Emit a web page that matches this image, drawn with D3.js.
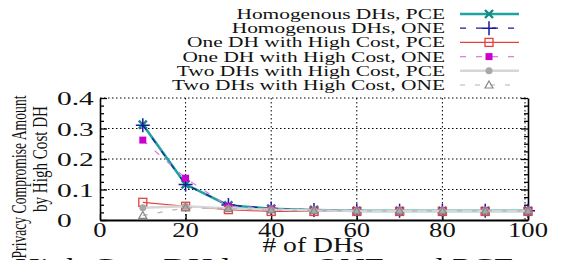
<!DOCTYPE html>
<html>
<head>
<meta charset="utf-8">
<script src="https://cdn.jsdelivr.net/npm/d3@7"></script>
<style>
  body { margin: 0; background: #fff; }
  text { font-family: "Liberation Serif", "DejaVu Serif", serif; }
</style>
</head>
<body>
<div id="chart"></div>
<script>
// number of DHs on the x axis
var dhCounts = [10, 20, 30, 40, 50, 60, 70, 80, 90, 100];

// privacy compromise amount, one array per curve
var homPCE     = [0.313, 0.117, 0.048, 0.037, 0.033, 0.030, 0.030, 0.030, 0.030, 0.030];
var homONE     = [0.311, 0.116, 0.049, 0.038, 0.033, 0.031, 0.030, 0.030, 0.030, 0.030];
var oneHighPCE = [0.058, 0.045, 0.034, 0.028, 0.028, 0.028, 0.028, 0.028, 0.028, 0.028];
var oneHighONE = [0.262, 0.137, 0.045, 0.036, 0.031, 0.030, 0.030, 0.030, 0.030, 0.030];
var twoHighPCE = [0.040, 0.045, 0.038, 0.034, 0.031, 0.030, 0.030, 0.030, 0.030, 0.030];
var twoHighONE = [0.015, 0.040, 0.037, 0.033, 0.031, 0.030, 0.030, 0.030, 0.030, 0.030];

var seriesNames = [
  "Homogenous DHs, PCE",
  "Homogenous DHs, ONE",
  "One DH with High Cost, PCE",
  "One DH with High Cost, ONE",
  "Two DHs with High Cost, PCE",
  "Two DHs with High Cost, ONE"
];
var xTicks = [0, 20, 40, 60, 80, 100];
var yTicks = [0, 0.1, 0.2, 0.3, 0.4];

function init(){
  var w = 567, h = 260;
  var left = 100, right = 528, top = 98, bottom = 220;

  var styles = [
    {color: "#1fa39e", width: 2.6, dash: null,   mark: "x"},
    {color: "#1a1a9a", width: 1.2, dash: "6,10", mark: "plus"},
    {color: "#e4403c", width: 1.2, dash: null,   mark: "osq"},
    {color: "#e27ae2", width: 1.2, dash: "6,10", mark: "fsq", mcolor: "#cc00cc"},
    {color: "#d6d6d6", width: 2.4, dash: null,   mark: "circ", mcolor: "#a8a8a8"},
    {color: "#b4b4b4", width: 1.2, dash: "5,10", mark: "tri", mcolor: "#888"}
  ];
  var allSeries = [homPCE, homONE, oneHighPCE, oneHighONE, twoHighPCE, twoHighONE];

  var x = d3.scaleLinear().domain([0, 100]).range([left, right]);
  var y = d3.scaleLinear().domain([0, 0.4]).range([bottom, top]);

  var svg = d3.select("#chart").append("svg")
    .attr("width", w).attr("height", h)
    .attr("font-family", "Liberation Serif, DejaVu Serif, serif");

  // stretch text sideways like the reference picture
  function stretch(sel, k){
    sel.each(function(){
      var len = this.getComputedTextLength();
      d3.select(this).attr("textLength", len * k).attr("lengthAdjust", "spacingAndGlyphs");
    });
  }

  // grid
  svg.append("g").selectAll("line")
    .data(yTicks.filter(function(d){ return d > 0; }))
    .enter().append("line")
    .attr("x1", left).attr("x2", right)
    .attr("y1", function(d){ return y(d); }).attr("y2", function(d){ return y(d); })
    .attr("stroke", "#000").attr("stroke-width", 1).attr("stroke-dasharray", "1.5,2.5");
  svg.append("g").selectAll("line")
    .data(xTicks.filter(function(d){ return d > 0; }))
    .enter().append("line")
    .attr("x1", function(d){ return x(d) - (d == 100 ? 3 : 0); })
    .attr("x2", function(d){ return x(d) - (d == 100 ? 3 : 0); })
    .attr("y1", top).attr("y2", bottom)
    .attr("stroke", "#000").attr("stroke-width", 1).attr("stroke-dasharray", "1.5,2.5");

  // axes: ticks point inward, minor ticks every 0.025
  var yAxisL = d3.axisRight(y).tickValues(d3.range(0, 0.4001, 0.025)).tickFormat("")
    .tickSize(0).tickSizeOuter(0);
  var gl = svg.append("g").attr("transform", "translate(" + left + ",0)").call(yAxisL);
  gl.selectAll(".tick line").attr("x2", function(d){ return Math.abs(d*10 - Math.round(d*10)) < 1e-6 ? 7 : 4; })
    .attr("stroke-width", 1.3);
  var gr = svg.append("g").attr("transform", "translate(" + right + ",0)").call(d3.axisLeft(y)
    .tickValues(d3.range(0, 0.4001, 0.025)).tickFormat("").tickSize(0).tickSizeOuter(0));
  gr.selectAll(".tick line").attr("x2", function(d){ return Math.abs(d*10 - Math.round(d*10)) < 1e-6 ? -7 : -4; })
    .attr("stroke-width", 1.3);
  svg.selectAll(".domain").attr("stroke", "#000").attr("stroke-width", 1.6);
  var gb = svg.append("g").attr("transform", "translate(0," + bottom + ")")
    .call(d3.axisTop(x).tickValues(xTicks).tickFormat("").tickSizeInner(6).tickSizeOuter(0));
  gb.select(".domain").attr("stroke", "#000").attr("stroke-width", 1.8);
  gb.selectAll(".tick line").attr("stroke-width", 1.3);

  // tick labels
  var yl = svg.append("g").selectAll("text").data(yTicks).enter().append("text")
    .attr("x", 57).attr("y", function(d){ return y(d) + 7; })
    .attr("font-size", 19).attr("fill", "#111")
    .text(function(d){ return d == 0 ? "0" : d3.format(".1f")(d); });
  stretch(yl, 1.55);
  var xl = svg.append("g").selectAll("text").data(xTicks).enter().append("text")
    .attr("x", function(d){ return x(d); }).attr("y", 237)
    .attr("text-anchor", "middle").attr("font-size", 20).attr("fill", "#111")
    .text(function(d){ return d; });
  stretch(xl, 1.33);

  var xt = svg.append("text").attr("x", 313).attr("y", 252)
    .attr("text-anchor", "middle").attr("font-size", 20).attr("fill", "#111")
    .text("# of DHs");
  stretch(xt, 1.38);

  svg.append("text").attr("transform", "translate(26,177) rotate(-90)")
    .attr("text-anchor", "middle").attr("font-size", 20).attr("fill", "#111")
    .attr("textLength", 163).attr("lengthAdjust", "spacingAndGlyphs")
    .text("Privacy Compromise Amount");
  svg.append("text").attr("transform", "translate(47,159) rotate(-90)")
    .attr("text-anchor", "middle").attr("font-size", 20).attr("fill", "#111")
    .attr("textLength", 106).attr("lengthAdjust", "spacingAndGlyphs")
    .text("by High Cost DH");

  // caption cut off at the bottom
  svg.append("text").attr("x", 15).attr("y", 278)
    .attr("font-size", 30).attr("fill", "#111")
    .attr("textLength", 500).attr("lengthAdjust", "spacingAndGlyphs")
    .text("High Cost DH leaves ONE and PCE");

  function drawMark(g, s, cx, cy){
    var mc = s.mcolor || s.color;
    if (s.mark == "x"){
      g.append("path").attr("d", "M" + (cx-4) + "," + (cy-4) + "L" + (cx+4) + "," + (cy+4) +
        "M" + (cx-4) + "," + (cy+4) + "L" + (cx+4) + "," + (cy-4))
        .attr("stroke", "#138a86").attr("stroke-width", 2.4);
    } else if (s.mark == "plus"){
      g.append("path").attr("d", "M" + (cx-7) + "," + cy + "L" + (cx+7) + "," + cy +
        "M" + cx + "," + (cy-7) + "L" + cx + "," + (cy+7))
        .attr("stroke", mc).attr("stroke-width", 1.5);
    } else if (s.mark == "osq"){
      g.append("rect").attr("x", cx-4).attr("y", cy-4).attr("width", 8).attr("height", 8)
        .attr("fill", "none").attr("stroke", mc).attr("stroke-width", 1.3);
    } else if (s.mark == "fsq"){
      g.append("rect").attr("x", cx-3.5).attr("y", cy-3.5).attr("width", 7).attr("height", 7)
        .attr("fill", mc);
    } else if (s.mark == "circ"){
      g.append("circle").attr("cx", cx).attr("cy", cy).attr("r", 3.5).attr("fill", mc);
    } else {
      g.append("path").attr("d", "M" + cx + "," + (cy-4) + "L" + (cx+4) + "," + (cy+3) +
        "L" + (cx-4) + "," + (cy+3) + "Z")
        .attr("fill", "none").attr("stroke", mc).attr("stroke-width", 1.2);
    }
  }

  var line = d3.line()
    .x(function(d, i){ return x(dhCounts[i]); })
    .y(function(d){ return y(d); });

  // legend text width: longest entry spans 273px in the reference
  var probe = svg.append("text").attr("font-size", 14).text(seriesNames[5]);
  var legendK = 273 / probe.node().getComputedTextLength();
  probe.remove();

  allSeries.forEach(function(vals, k){
    var s = styles[k];
    var g = svg.append("g");
    g.append("path").attr("d", line(vals))
      .attr("fill", "none").attr("stroke", s.color).attr("stroke-width", s.width)
      .attr("stroke-dasharray", s.dash);
    vals.forEach(function(v, i){ drawMark(g, s, x(dhCounts[i]), y(v)); });

    // legend row
    var ly = 14 + k * 14.2;
    var lt = svg.append("text").attr("x", 445).attr("y", ly + 5)
      .attr("text-anchor", "end").attr("font-size", 14).attr("fill", "#111")
      .text(seriesNames[k]);
    stretch(lt, legendK);
    var lg = svg.append("g");
    lg.append("line").attr("x1", 460).attr("x2", 519).attr("y1", ly).attr("y2", ly)
      .attr("stroke", s.color).attr("stroke-width", s.width).attr("stroke-dasharray", s.dash);
    drawMark(lg, s, 489, ly);
  });
}

document.fonts.ready.then(init);
</script>
</body>
</html>
